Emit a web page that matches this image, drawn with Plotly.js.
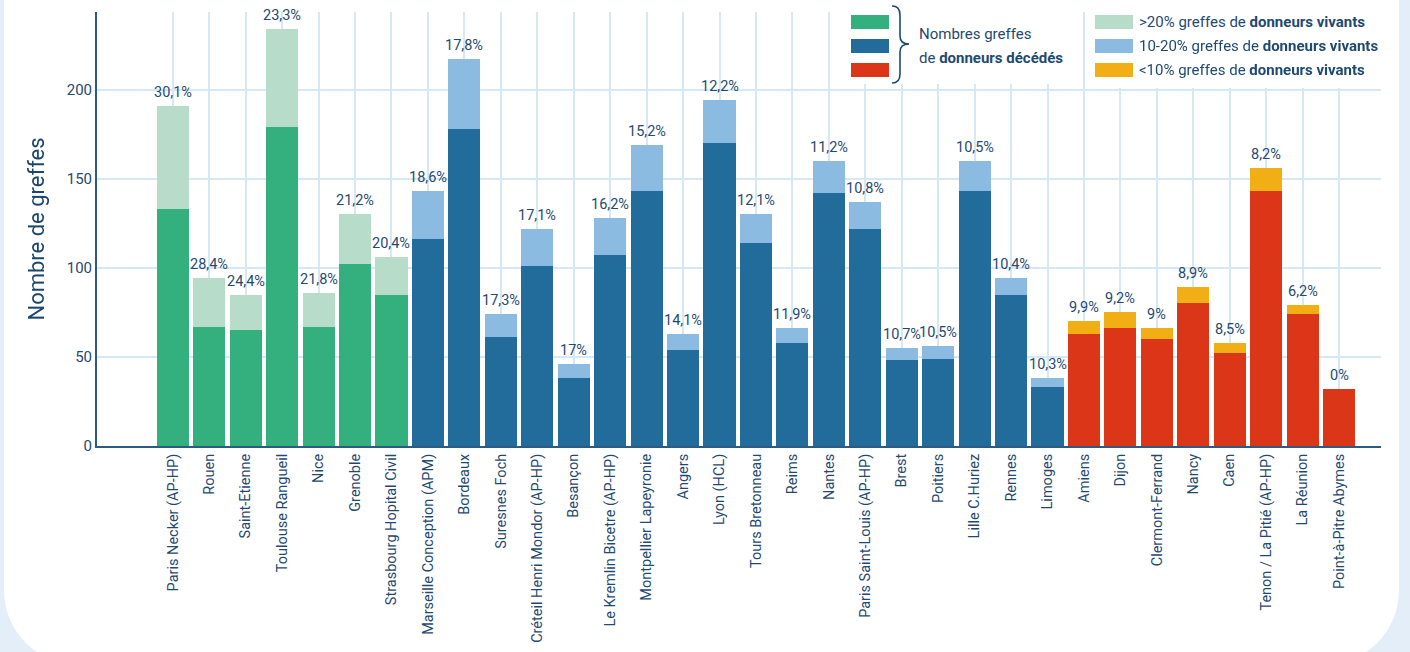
<!DOCTYPE html>
<html>
<head>
<meta charset="utf-8">
<script src="https://cdn.plot.ly/plotly-3.0.1.min.js"></script>
<style>
  html, body { margin:0; padding:0; width:1410px; height:652px; overflow:hidden; background:#e3eef8; }
  #card { position:absolute; left:4px; top:-100px; width:1395px; height:765px; background:#ffffff; border-radius:75px; }
  #chart { position:absolute; left:0; top:0; width:1410px; height:652px; }
</style>
</head>
<body>
<div id="card"></div>
<div id="chart"></div>
<script>
// ---- Data ----
const categories = [
  "Paris Necker (AP-HP)", "Rouen", "Saint-Etienne", "Toulouse Rangueil", "Nice", "Grenoble",
  "Strasbourg Hopital Civil", "Marseille Conception (APM)", "Bordeaux", "Suresnes Foch",
  "Créteil Henri Mondor (AP-HP)", "Besançon", "Le Kremlin Bicetre (AP-HP)", "Montpellier Lapeyronie",
  "Angers", "Lyon (HCL)", "Tours Bretonneau", "Reims", "Nantes", "Paris Saint-Louis (AP-HP)",
  "Brest", "Poitiers", "Lille C.Huriez", "Rennes", "Limoges", "Amiens", "Dijon", "Clermont-Ferrand",
  "Nancy", "Caen", "Tenon / La Pitié (AP-HP)", "La Réunion", "Point-à-Pitre Abymes"
];
const deceasedGrafts = [133, 67, 65, 179, 67, 102, 85, 116, 178, 61, 101, 38, 107, 143, 54, 170, 114, 58, 142, 122, 48, 49, 143, 85, 33, 63, 66, 60, 80, 52, 143, 74, 32];
const livingGrafts   = [58, 27, 20, 55, 19, 28, 21, 27, 39, 13, 21, 8, 21, 26, 9, 24, 16, 8, 18, 15, 7, 7, 17, 9, 5, 7, 9, 6, 9, 6, 13, 5, 0];
const livingShareLabels = ["30,1%", "28,4%", "24,4%", "23,3%", "21,8%", "21,2%", "20,4%", "18,6%", "17,8%", "17,3%",
  "17,1%", "17%", "16,2%", "15,2%", "14,1%", "12,2%", "12,1%", "11,9%", "11,2%", "10,8%", "10,7%", "10,5%",
  "10,5%", "10,4%", "10,3%", "9,9%", "9,2%", "9%", "8,9%", "8,5%", "8,2%", "6,2%", "0%"];
// group: share of living-donor grafts (>20%, 10-20%, <10%)
const shareGroup = ["hi","hi","hi","hi","hi","hi","hi",
  "mid","mid","mid","mid","mid","mid","mid","mid","mid","mid","mid","mid","mid","mid","mid","mid","mid","mid",
  "lo","lo","lo","lo","lo","lo","lo","lo"];
const yTicks = [0, 50, 100, 150, 200];
const deceasedLegendLines = ["Nombres greffes", "de <b>donneurs décédés</b>"];
const livingLegendLabels = [">20% greffes de <b>donneurs vivants</b>", "10-20% greffes de <b>donneurs vivants</b>", "<10% greffes de <b>donneurs vivants</b>"];

// ---- Styles ----
const deceasedColor = {hi:"#34b07e", mid:"#226c9c", lo:"#dc3618"};
const livingColor   = {hi:"#b7dcc9", mid:"#8cbbe2", lo:"#f1ae15"};
const textColor = "#1f4a70";
const gridColor = "#d6e8f5";
const axisColor = "#2b5b83";
const FONT = "Roboto, 'Open Sans', sans-serif";

const totals = deceasedGrafts.map((d, i) => d + livingGrafts[i]);
const xIdx = categories.map((c, i) => i);

const traces = [
  {
    type: "bar", x: xIdx, y: deceasedGrafts, name: "Donneurs décédés",
    marker: {color: shareGroup.map(g => deceasedColor[g]), line: {width: 0}},
    hoverinfo: "skip", showlegend: false
  },
  {
    type: "bar", x: xIdx, y: livingGrafts, name: "Donneurs vivants",
    marker: {color: shareGroup.map(g => livingColor[g]), line: {width: 0}},
    hoverinfo: "skip", showlegend: false
  }
];

// pixel -> paper helpers (plot area: x 97..1381, y 12..446)
const L = 97, R = 1381, T = 12, B = 446;
const px = x => (x - L) / (R - L);
const py = y => (B - y) / (B - T);

const annotations = totals.map((t, i) => ({
  x: i, y: t, xref: "x", yref: "y", text: livingShareLabels[i], showarrow: false,
  yanchor: "bottom", yshift: 3, font: {family: FONT, size: 14.5, color: textColor}
}));

// legend
const shapes = [];
shapes.push({type:"rect", xref:"paper", yref:"paper", x0:px(838), x1:px(1076), y0:py(84), y1:py(-2), fillcolor:"#ffffff", line:{width:0}, layer:"above"});
shapes.push({type:"rect", xref:"paper", yref:"paper", x0:px(1090), x1:px(1381), y0:py(88), y1:py(-2), fillcolor:"#ffffff", line:{width:0}, layer:"above"});
const swY = [[15,29],[39,53],[63,77]];
["hi","mid","lo"].forEach((g, k) => {
  shapes.push({type:"rect", xref:"paper", yref:"paper", x0:px(851), x1:px(889), y0:py(swY[k][1]), y1:py(swY[k][0]), fillcolor:deceasedColor[g], line:{width:0}, layer:"above"});
  shapes.push({type:"rect", xref:"paper", yref:"paper", x0:px(1095), x1:px(1133), y0:py(swY[k][1]), y1:py(swY[k][0]), fillcolor:livingColor[g], line:{width:0}, layer:"above"});
});
const P = (x, y) => px(x) + "," + py(y);
const bracePath = "M" + P(892,6) + " Q" + P(900,6) + " " + P(900,15) + " L" + P(900,36) + " Q" + P(900,44) + " " + P(909,44) +
  " Q" + P(900,44) + " " + P(900,52) + " L" + P(900,74) + " Q" + P(900,83) + " " + P(892,83);
shapes.push({type:"path", xref:"paper", yref:"paper", path: bracePath, line:{color:"#1d4a6f", width:1.6}, layer:"above"});

[34, 58].forEach((y, k) => {
  annotations.push({xref:"paper", yref:"paper", x:px(917), y:py(y), xanchor:"left", yanchor:"middle",
    text: deceasedLegendLines[k], showarrow:false, font:{family:FONT, size:15, color:textColor}});
});
[22, 46, 70].forEach((y, k) => {
  annotations.push({xref:"paper", yref:"paper", x:px(1137), y:py(y), xanchor:"left", yanchor:"middle",
    text: livingLegendLabels[k], showarrow:false, font:{family:FONT, size:15, color:textColor}});
});

const layout = {
  width: 1410, height: 652,
  margin: {l: L, r: 1410 - R, t: T, b: 652 - B, pad: 0},
  paper_bgcolor: "rgba(0,0,0,0)", plot_bgcolor: "rgba(0,0,0,0)",
  barmode: "stack", bargap: 0.12,
  font: {family: FONT, color: textColor},
  showlegend: false,
  xaxis: {
    range: [-2.08, 33.15], tickmode: "array", tickvals: xIdx, ticktext: categories,
    tickangle: -90, tickfont: {family: FONT, size: 14.5, color: textColor},
    showgrid: true, gridcolor: gridColor, gridwidth: 2,
    showline: true, linecolor: axisColor, linewidth: 2, ticks: "", zeroline: false, fixedrange: true
  },
  yaxis: {
    range: [0, 243.5], tickmode: "array", tickvals: yTicks,
    tickfont: {family: FONT, size: 15, color: textColor},
    showgrid: true, gridcolor: gridColor, gridwidth: 2,
    showline: true, linecolor: axisColor, linewidth: 2, ticks: "", zeroline: false,
    title: {text: "Nombre de greffes", font: {family: FONT, size: 22, color: "#1a466d"}, standoff: 16},
    fixedrange: true
  },
  shapes: shapes,
  annotations: annotations
};

Plotly.newPlot("chart", traces, layout, {staticPlot: true, displayModeBar: false});
</script>
</body>
</html>
